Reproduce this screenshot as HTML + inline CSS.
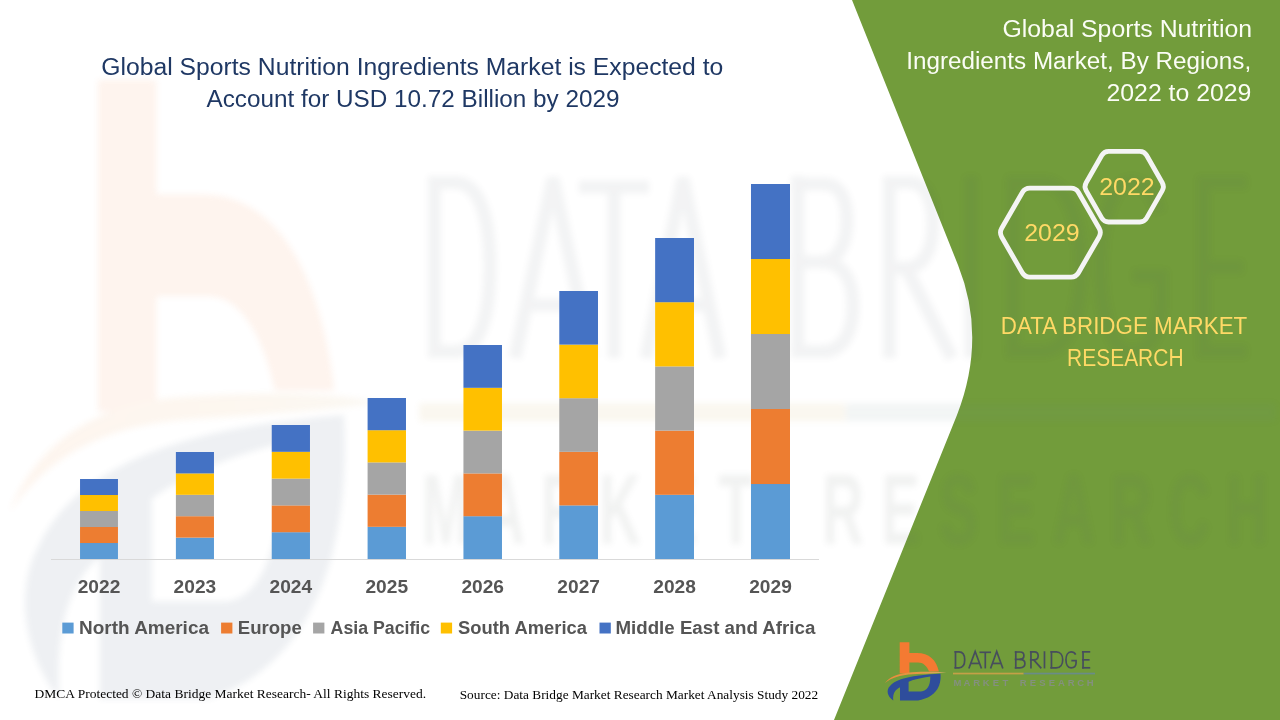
<!DOCTYPE html>
<html>
<head>
<meta charset="utf-8">
<style>
html,body{margin:0;padding:0;background:#fff;}
body{width:1280px;height:720px;overflow:hidden;position:relative;font-family:"Liberation Sans",sans-serif;}
svg{position:absolute;left:0;top:0;display:block;}
</style>
</head>
<body>
<svg width="1280" height="720" viewBox="0 0 1280 720">
<defs>
  <filter id="wb" x="-10%" y="-10%" width="120%" height="120%"><feGaussianBlur stdDeviation="3"/></filter>
  <filter id="lb" x="-10%" y="-10%" width="120%" height="120%"><feGaussianBlur stdDeviation="0.35"/></filter>
  <linearGradient id="swg" gradientUnits="userSpaceOnUse" x1="885" y1="0" x2="947" y2="0"><stop offset="0" stop-color="#EE8A3C"/><stop offset="0.6" stop-color="#E39A45"/><stop offset="1" stop-color="#CFAE6A"/></linearGradient>
  <g id="lshapes">
    <path d="M899.7,642.2 H909.4 V653 H917 C929,653 936.5,660 938.9,671.5 H929 C927,666 923,662.6 918,662.6 H909.4 V673.5 H899.7 Z" fill="#F47A30"/>
    <path d="M885,683 C889,677 898,673 912,672.2 C925,671.6 938,671.6 946.5,672.6 C938,673.4 925,673.8 913,674.3 C900,675 891,678 885,683 Z" fill="url(#swg)"/>
    <path d="M893.3,700.6 C887,696 886,690 890,686 C896,679 912,675 940.5,673.8 C941.5,685 937,697 918,700.6 L900,700.6 L900,687.2 C895,689.5 892.5,694 893.3,700.6 Z M908.6,681.7 L908.6,691.4 L921,691.4 C927,691 930.5,686 930.3,676.5 C922,677.5 914,679.5 908.6,681.7 Z" style="fill:var(--dcol,#2D4D9C)" fill-rule="evenodd"/>
    <rect x="953" y="672.7" width="70.7" height="1.7" fill="#C4A046"/>
    <rect x="1023.7" y="672.7" width="71.3" height="1.7" fill="#6A8C88"/>
  </g>
  <g id="lmr" font-family="Liberation Sans" font-weight="bold" font-size="9.5" text-anchor="middle"><text x="957.41" y="686">M</text><text x="967.03" y="686">A</text><text x="976.65" y="686">R</text><text x="986.27" y="686">K</text><text x="995.89" y="686">E</text><text x="1005.50" y="686">T</text><text x="1023.25" y="686">R</text><text x="1032.82" y="686">E</text><text x="1042.39" y="686">S</text><text x="1051.96" y="686">E</text><text x="1061.52" y="686">A</text><text x="1071.09" y="686">R</text><text x="1080.66" y="686">C</text><text x="1090.23" y="686">H</text></g>
  <g id="skel" fill="none" stroke-linecap="butt" stroke-linejoin="miter">
<path d="M434.5,176 V358" vector-effect="non-scaling-stroke"/>
<path d="M428,182.5 H455 C481,182.5 490,222 490,267 C490,312 481,351.5 455,351.5 H428" vector-effect="non-scaling-stroke"/>
<path d="M515,358 L553,178 L591,358" vector-effect="non-scaling-stroke"/>
<path d="M527,305 H579" vector-effect="non-scaling-stroke"/>
<path d="M579,187 H649" vector-effect="non-scaling-stroke"/>
<path d="M614,187 V358" vector-effect="non-scaling-stroke"/>
<path d="M646,358 L683,178 L720,358" vector-effect="non-scaling-stroke"/>
<path d="M658,305 H708" vector-effect="non-scaling-stroke"/>
<path d="M798,176 V358" vector-effect="non-scaling-stroke"/>
<path d="M791.5,184 H824 C841,184 847,201 847,221 C847,244 837,262 821,262 H791.5" vector-effect="non-scaling-stroke"/>
<path d="M821,262 C845,262 853,283 853,306 C853,333 842,351.5 823,351.5 H791.5" vector-effect="non-scaling-stroke"/>
<path d="M889.5,176 V358" vector-effect="non-scaling-stroke"/>
<path d="M883,182.5 H910 C926,182.5 933,202 933,224 C933,250 923,268 906,268 H883" vector-effect="non-scaling-stroke"/>
<path d="M906,268 L952,358" vector-effect="non-scaling-stroke"/>
<path d="M971,176 V358" vector-effect="non-scaling-stroke"/>
<path d="M1013,176 V358" vector-effect="non-scaling-stroke"/>
<path d="M1006.5,182.5 H1043 C1068,182.5 1081,222 1081,267 C1081,312 1068,351.5 1043,351.5 H1006.5" vector-effect="non-scaling-stroke"/>
<path d="M1159,212 C1153,192 1143,182.5 1131,182.5 C1112,182.5 1100.5,220 1100.5,267 C1100.5,314 1112,351.5 1131,351.5 C1150,351.5 1161.5,330 1161.5,300 V276 H1133" vector-effect="non-scaling-stroke"/>
<path d="M1203.5,176 V358" vector-effect="non-scaling-stroke"/>
<path d="M1197,182.5 H1247" vector-effect="non-scaling-stroke"/>
<path d="M1197,267 H1243" vector-effect="non-scaling-stroke"/>
<path d="M1197,351.5 H1247" vector-effect="non-scaling-stroke"/>
  </g>
</defs>

<!-- green panel -->
<path d="M852,0 L958,265 Q987,337.5 957,415 L834,720 L1280,720 L1280,0 Z" fill="#729C3B"/>

<!-- watermark -->
<g filter="url(#wb)" opacity="0.085">
  <use href="#lshapes" transform="matrix(6.03 0 0 10.6 -5327.2 -6727.3)" style="--dcol:#374F72"/>
  <use href="#lmr" transform="matrix(6.03 0 0 10.6 -5327.2 -6727.3)" fill="#5F6B63"/>
  <use href="#skel" stroke="#4B5563" stroke-width="13" opacity="0.8"/>
</g>

<!-- chart -->
<line x1="51" y1="559.5" x2="819" y2="559.5" stroke="#D9D9D9" stroke-width="1"/>
<rect x="80.04" y="543.00" width="37.92" height="16.02" fill="#5B9BD5"/>
<rect x="80.04" y="527.00" width="37.92" height="16.02" fill="#ED7D31"/>
<rect x="80.04" y="511.00" width="37.92" height="16.02" fill="#A5A5A5"/>
<rect x="80.04" y="495.00" width="37.92" height="16.02" fill="#FFC000"/>
<rect x="80.04" y="479.00" width="37.92" height="16.02" fill="#4472C4"/>
<rect x="175.89" y="537.60" width="38.08" height="21.42" fill="#5B9BD5"/>
<rect x="175.89" y="516.20" width="38.08" height="21.42" fill="#ED7D31"/>
<rect x="175.89" y="494.80" width="38.08" height="21.42" fill="#A5A5A5"/>
<rect x="175.89" y="473.40" width="38.08" height="21.42" fill="#FFC000"/>
<rect x="175.89" y="452.00" width="38.08" height="21.42" fill="#4472C4"/>
<rect x="271.74" y="532.20" width="38.23" height="26.82" fill="#5B9BD5"/>
<rect x="271.74" y="505.40" width="38.23" height="26.82" fill="#ED7D31"/>
<rect x="271.74" y="478.60" width="38.23" height="26.82" fill="#A5A5A5"/>
<rect x="271.74" y="451.80" width="38.23" height="26.82" fill="#FFC000"/>
<rect x="271.74" y="425.00" width="38.23" height="26.82" fill="#4472C4"/>
<rect x="367.59" y="526.80" width="38.39" height="32.22" fill="#5B9BD5"/>
<rect x="367.59" y="494.60" width="38.39" height="32.22" fill="#ED7D31"/>
<rect x="367.59" y="462.40" width="38.39" height="32.22" fill="#A5A5A5"/>
<rect x="367.59" y="430.20" width="38.39" height="32.22" fill="#FFC000"/>
<rect x="367.59" y="398.00" width="38.39" height="32.22" fill="#4472C4"/>
<rect x="463.44" y="516.20" width="38.54" height="42.82" fill="#5B9BD5"/>
<rect x="463.44" y="473.40" width="38.54" height="42.82" fill="#ED7D31"/>
<rect x="463.44" y="430.60" width="38.54" height="42.82" fill="#A5A5A5"/>
<rect x="463.44" y="387.80" width="38.54" height="42.82" fill="#FFC000"/>
<rect x="463.44" y="345.00" width="38.54" height="42.82" fill="#4472C4"/>
<rect x="559.29" y="505.40" width="38.70" height="53.62" fill="#5B9BD5"/>
<rect x="559.29" y="451.80" width="38.70" height="53.62" fill="#ED7D31"/>
<rect x="559.29" y="398.20" width="38.70" height="53.62" fill="#A5A5A5"/>
<rect x="559.29" y="344.60" width="38.70" height="53.62" fill="#FFC000"/>
<rect x="559.29" y="291.00" width="38.70" height="53.62" fill="#4472C4"/>
<rect x="655.14" y="494.80" width="38.86" height="64.22" fill="#5B9BD5"/>
<rect x="655.14" y="430.60" width="38.86" height="64.22" fill="#ED7D31"/>
<rect x="655.14" y="366.40" width="38.86" height="64.22" fill="#A5A5A5"/>
<rect x="655.14" y="302.20" width="38.86" height="64.22" fill="#FFC000"/>
<rect x="655.14" y="238.00" width="38.86" height="64.22" fill="#4472C4"/>
<rect x="750.99" y="484.00" width="39.01" height="75.02" fill="#5B9BD5"/>
<rect x="750.99" y="409.00" width="39.01" height="75.02" fill="#ED7D31"/>
<rect x="750.99" y="334.00" width="39.01" height="75.02" fill="#A5A5A5"/>
<rect x="750.99" y="259.00" width="39.01" height="75.02" fill="#FFC000"/>
<rect x="750.99" y="184.00" width="39.01" height="75.02" fill="#4472C4"/>

<g font-family="Liberation Sans" font-weight="bold" font-size="18" fill="#555555" text-anchor="middle">
  <text x="99.00" y="593" textLength="42.6" lengthAdjust="spacingAndGlyphs">2022</text>
  <text x="194.93" y="593" textLength="42.6" lengthAdjust="spacingAndGlyphs">2023</text>
  <text x="290.86" y="593" textLength="42.6" lengthAdjust="spacingAndGlyphs">2024</text>
  <text x="386.78" y="593" textLength="42.6" lengthAdjust="spacingAndGlyphs">2025</text>
  <text x="482.71" y="593" textLength="42.6" lengthAdjust="spacingAndGlyphs">2026</text>
  <text x="578.64" y="593" textLength="42.6" lengthAdjust="spacingAndGlyphs">2027</text>
  <text x="674.57" y="593" textLength="42.6" lengthAdjust="spacingAndGlyphs">2028</text>
  <text x="770.50" y="593" textLength="42.6" lengthAdjust="spacingAndGlyphs">2029</text>
</g>

<g font-family="Liberation Sans" font-weight="bold" font-size="18" fill="#555555">
  <rect x="62.3" y="622.6" width="11.3" height="10.9" fill="#5B9BD5"/>
  <text x="79" y="633.8" textLength="130" lengthAdjust="spacingAndGlyphs">North America</text>
  <rect x="221.1" y="622.6" width="11.3" height="10.9" fill="#ED7D31"/>
  <text x="237.8" y="633.8" textLength="64" lengthAdjust="spacingAndGlyphs">Europe</text>
  <rect x="313.1" y="622.6" width="11.3" height="10.9" fill="#A5A5A5"/>
  <text x="330.6" y="633.8" textLength="99.5" lengthAdjust="spacingAndGlyphs">Asia Pacific</text>
  <rect x="440.8" y="622.6" width="11.3" height="10.9" fill="#FFC000"/>
  <text x="458.1" y="633.8" textLength="128.8" lengthAdjust="spacingAndGlyphs">South America</text>
  <rect x="599.5" y="622.6" width="11.3" height="10.9" fill="#4472C4"/>
  <text x="615.5" y="633.8" textLength="199.8" lengthAdjust="spacingAndGlyphs">Middle East and Africa</text>
</g>

<!-- title -->
<g font-family="Liberation Sans" font-size="23.5" fill="#1F3864">
  <text x="101.3" y="74.8" textLength="622" lengthAdjust="spacingAndGlyphs">Global Sports Nutrition Ingredients Market is Expected to</text>
  <text x="206.5" y="107" textLength="413" lengthAdjust="spacingAndGlyphs">Account for USD 10.72 Billion by 2029</text>
</g>

<!-- right title -->
<g font-family="Liberation Sans" font-size="23.5" fill="#FBFDF5" text-anchor="end">
  <text x="1252" y="36.9" textLength="249.5" lengthAdjust="spacingAndGlyphs">Global Sports Nutrition</text>
  <text x="1251.2" y="68.9" textLength="345" lengthAdjust="spacingAndGlyphs">Ingredients Market, By Regions,</text>
  <text x="1251.3" y="100.8" textLength="144.8" lengthAdjust="spacingAndGlyphs">2022 to 2029</text>
</g>

<!-- hexagons -->
<g fill="none" stroke="#F4F4F4" stroke-width="4.8" stroke-linejoin="round">
  <path d="M1001.69,236.93 Q999.20,232.60 1001.69,228.27 L1022.31,192.43 Q1024.80,188.10 1029.80,188.10 L1071.00,188.10 Q1076.00,188.10 1078.49,192.43 L1099.11,228.27 Q1101.60,232.60 1099.11,236.93 L1078.49,272.77 Q1076.00,277.10 1071.00,277.10 L1029.80,277.10 Q1024.80,277.10 1022.31,272.77 Z"/>
  <path d="M1086.13,190.61 Q1083.90,186.70 1086.13,182.79 L1101.82,155.31 Q1104.05,151.40 1108.55,151.40 L1139.85,151.40 Q1144.35,151.40 1146.58,155.31 L1162.27,182.79 Q1164.50,186.70 1162.27,190.61 L1146.58,218.09 Q1144.35,222.00 1139.85,222.00 L1108.55,222.00 Q1104.05,222.00 1101.82,218.09 Z"/>
</g>
<g font-family="Liberation Sans" font-size="23" fill="#FFD966" text-anchor="middle">
  <text x="1052" y="240.5" textLength="55.5" lengthAdjust="spacingAndGlyphs">2029</text>
  <text x="1127" y="194.6" textLength="55.5" lengthAdjust="spacingAndGlyphs">2022</text>
</g>

<g font-family="Liberation Sans" font-size="23.5" fill="#FFD966" text-anchor="middle">
  <text x="1124" y="334" textLength="246.5" lengthAdjust="spacingAndGlyphs">DATA BRIDGE MARKET</text>
  <text x="1125.3" y="365.5" textLength="116.5" lengthAdjust="spacingAndGlyphs">RESEARCH</text>
</g>

<!-- footer -->
<g font-family="Liberation Serif" font-size="13" fill="#000">
  <text x="34.6" y="697.9" textLength="391.5" lengthAdjust="spacingAndGlyphs">DMCA Protected © Data Bridge  Market Research- All Rights Reserved.</text>
  <text x="459.7" y="699.3" textLength="358.5" lengthAdjust="spacingAndGlyphs">Source: Data Bridge Market Research Market Analysis Study 2022</text>
</g>

<!-- logo -->
<g filter="url(#lb)">
  <use href="#lshapes"/>
  <use href="#lmr" fill="#84907F"/>
  <use href="#skel" transform="matrix(0.165837 0 0 0.094340 883.4494 634.6509)" stroke="#464E5C" stroke-width="1.7"/>
</g>
</svg>
</body>
</html>
